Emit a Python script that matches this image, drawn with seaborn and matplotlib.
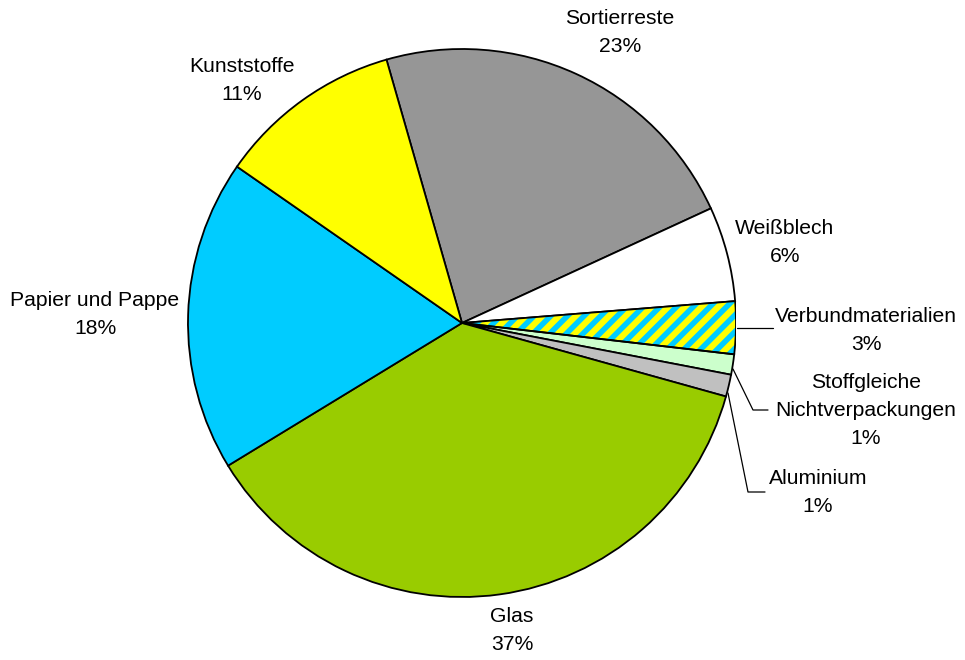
import matplotlib
matplotlib.use("Agg")
import matplotlib.pyplot as plt
import seaborn as sns
import numpy as np
from matplotlib.patches import Wedge

categories = ["Sortierreste", "Weißblech", "Verbundmaterialien",
              "Stoffgleiche\nNichtverpackungen", "Aluminium", "Glas",
              "Papier und Pappe", "Kunststoffe"]
shares = [22.6, 5.6, 3.1, 1.2, 1.3, 37.0, 18.4, 10.9]
colors = ["#969696", "#FFFFFF", "#FFFF00", "#CCFFCC", "#C0C0C0",
          "#99CC00", "#00CCFF", "#FFFF00"]

sns.set_style("white")
plt.rcParams['font.family'] = ['Liberation Sans', 'DejaVu Sans']
plt.rcParams['text.color'] = 'black'
plt.rcParams['hatch.linewidth'] = 4.0

W, H = 965, 660
fig = plt.figure(figsize=(W / 100, H / 100), dpi=100)
cx, cy, r = 462, 323, 274
ax = fig.add_axes([(cx - r) / W, (H - cy - r) / H, 2 * r / W, 2 * r / H])

wedges, _ = ax.pie(shares, colors=colors, startangle=106, counterclock=False,
                   radius=1, center=(0, 0), frame=True,
                   wedgeprops=dict(edgecolor='black', linewidth=1.3))
ax.set_xlim(-1, 1)
ax.set_ylim(-1, 1)
ax.set_aspect('equal')
ax.axis('off')

# hatched composite slice
wv = wedges[2]
wv.set_edgecolor('#00CCFF')
wv.set_linewidth(0)
wv.set_hatch('//')
outline = Wedge(wv.center, wv.r, wv.theta1, wv.theta2, facecolor='none',
                edgecolor='black', linewidth=1.3, zorder=wv.get_zorder() + 1)
ax.add_patch(outline)

def to_data(px, py):
    return (px - cx) / r, (cy - py) / r

label_pos = [(620, 33), (785, 242), (866, 330), (866, 410), (818, 492),
             (512, 631), (95, 315), (242, 81)]
for name, val, (px, py) in zip(categories, shares, label_pos):
    x, y = to_data(px, py)
    ax.text(x, y, f"{name}\n{round(val):d}%", ha='center', va='center',
            fontsize=15.2, linespacing=1.6, color='black', clip_on=False)

leaders = [
    [(737, 328), (773, 328)],
    [(733, 369), (753, 410), (768, 410)],
    [(728, 393), (748, 492), (765, 492)],
]
for pts in leaders:
    xs, ys = zip(*[to_data(*p) for p in pts])
    ax.plot(xs, ys, color='black', linewidth=0.9, clip_on=False)

fig.savefig("out.png", dpi=100)
